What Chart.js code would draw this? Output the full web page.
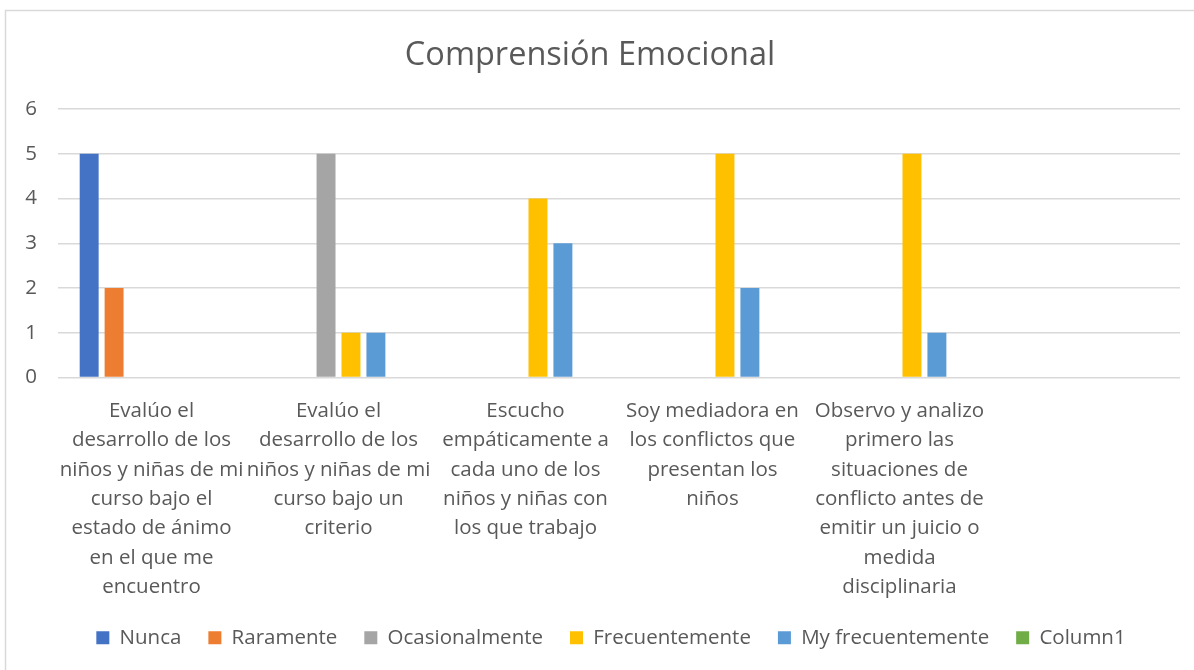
<!DOCTYPE html>
<html lang="es">
<head>
    <meta charset="UTF-8">
    <title>Comprensión Emocional</title>
    <script src="https://cdn.jsdelivr.net/npm/chart.js"></script>
    <style>
        body {
            margin: 0;
            padding: 0;
            background: #fff;
        }
        .wrap {
            position: relative;
            width: 1194px;
            height: 670px;
        }
    </style>
</head>
<body>
    <div class="wrap">
        <canvas id="chart" width="1194" height="670"></canvas>
    </div>

    <script>
        // categorias (ya partidas en lineas como en Excel)
        const categories = [
            ["Evalúo el", "desarrollo de los", "niños y niñas de mi", "curso bajo el", "estado de ánimo", "en el que me", "encuentro"],
            ["Evalúo el", "desarrollo de los", "niños y niñas de mi", "curso bajo un", "criterio"],
            ["Escucho", "empáticamente a", "cada uno de los", "niños y niñas con", "los que trabajo"],
            ["Soy mediadora en", "los conflictos que", "presentan los", "niños"],
            ["Observo y analizo", "primero las", "situaciones de", "conflicto antes de", "emitir un juicio o", "medida", "disciplinaria"],
            ""
        ];

        const nunca = [5, null, null, null, null, null];
        const raramente = [2, null, null, null, null, null];
        const ocasionalmente = [null, 5, null, null, null, null];
        const frecuentemente = [null, 1, 4, 5, 5, null];
        const myFrecuentemente = [null, 1, 3, 2, 1, null];
        const column1 = [null, null, null, null, null, null];

        const yTicks = [0, 1, 2, 3, 4, 5, 6];

        const textColor = '#595959';
        const fontFamily = '"Open Sans", "Liberation Sans", sans-serif';

        // marco gris del grafico + leyenda un poco a la derecha (como en Excel)
        const borderPlugin = {
            id: 'outerBorder',
            afterLayout(chart) {
                chart.legend.left += 42;
            },
            beforeDraw(chart) {
                const ctx = chart.ctx;
                ctx.save();
                ctx.fillStyle = '#fff';
                ctx.fillRect(0, 0, chart.width, chart.height);
                ctx.strokeStyle = '#d9d9d9';
                ctx.lineWidth = 1.5;
                ctx.strokeRect(5.5, 10.5, 1220, 700);
                ctx.restore();
            }
        };

        new Chart(document.getElementById('chart'), {
            type: 'bar',
            data: {
                labels: categories,
                datasets: [
                    { label: 'Nunca', data: nunca, backgroundColor: '#4472C4' },
                    { label: 'Raramente', data: raramente, backgroundColor: '#ED7D31' },
                    { label: 'Ocasionalmente', data: ocasionalmente, backgroundColor: '#A5A5A5' },
                    { label: 'Frecuentemente', data: frecuentemente, backgroundColor: '#FFC000' },
                    { label: 'My frecuentemente', data: myFrecuentemente, backgroundColor: '#5B9BD5' },
                    { label: 'Column1', data: column1, backgroundColor: '#70AD47' }
                ]
            },
            options: {
                responsive: false,
                animation: false,
                categoryPercentage: 0.8,
                barPercentage: 0.76,
                layout: {
                    padding: { left: 0, right: 14, top: 0, bottom: 12 }
                },
                plugins: {
                    title: {
                        display: true,
                        text: 'Comprensión Emocional',
                        color: textColor,
                        font: { family: fontFamily, size: 32.5, weight: 'normal' },
                        padding: { top: 36, bottom: 34 }
                    },
                    legend: {
                        position: 'bottom',
                        labels: {
                            color: textColor,
                            font: { family: fontFamily, size: 20.5 },
                            boxWidth: 13,
                            boxHeight: 13,
                            padding: 27
                        }
                    },
                    tooltip: { enabled: false }
                },
                scales: {
                    x: {
                        grid: { display: false, drawTicks: false },
                        border: { display: false },
                        ticks: {
                            color: textColor,
                            font: { family: fontFamily, size: 20.5, lineHeight: 1.43 },
                            maxRotation: 0,
                            autoSkip: false,
                            padding: 19
                        },
                        afterFit(scale) { scale.height = 223; }
                    },
                    y: {
                        min: 0,
                        max: 6,
                        afterBuildTicks(scale) {
                            scale.ticks = yTicks.map(v => ({ value: v }));
                        },
                        grid: { color: '#d9d9d9', lineWidth: 1.5, drawTicks: false },
                        border: { display: false },
                        ticks: {
                            color: textColor,
                            font: { family: fontFamily, size: 20.5 },
                            padding: 21
                        },
                        afterFit(scale) { scale.width = 58; }
                    }
                }
            },
            plugins: [borderPlugin]
        });
    </script>
</body>
</html>
